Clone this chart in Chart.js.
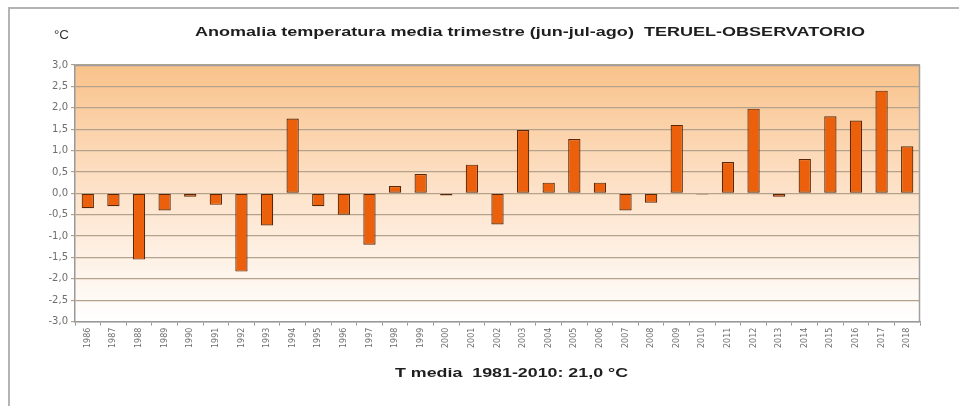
<!DOCTYPE html>
<html>
<head>
<meta charset="utf-8">
<script src="https://cdn.jsdelivr.net/npm/chart.js"></script>
<style>
    body { margin: 0; background: #fff; }
    #wrap { position: relative; width: 959px; height: 406px; }
    #frame { position: absolute; left: 8px; top: 7px; width: 1000px; height: 500px;
             border-left: 2px solid #b4b4b4; border-top: 2px solid #b4b4b4; }
    canvas { position: absolute; left: 0; top: 0; }
</style>
</head>
<body>
<div id="wrap">
    <div id="frame"></div>
    <canvas id="anomChart" width="959" height="406"></canvas>
</div>
<script>
    const years = ['1986', '1987', '1988', '1989', '1990', '1991', '1992', '1993', '1994', '1995',
        '1996', '1997', '1998', '1999', '2000', '2001', '2002', '2003', '2004', '2005',
        '2006', '2007', '2008', '2009', '2010', '2011', '2012', '2013', '2014', '2015',
        '2016', '2017', '2018'];
    const anomalies = [-0.35, -0.3, -1.55, -0.4, -0.08, -0.27, -1.83, -0.75, 1.75, -0.3,
        -0.5, -1.2, 0.17, 0.45, -0.05, 0.67, -0.73, 1.48, 0.25, 1.27,
        0.25, -0.4, -0.22, 1.6, -0.03, 0.73, 1.98, -0.08, 0.8, 1.8,
        1.7, 2.4, 1.1];
    const yMin = -3, yMax = 3, yStep = 0.5;

    const chartTitle = 'Anomalia temperatura media trimestre (jun-jul-ago)  TERUEL-OBSERVATORIO';
    const unitLabel = '°C';
    const footer = 'T media  1981-2010: 21,0 °C';

    // the source picture is stretched sideways, so text is widened to fit a span
    function wideText(ctx, text, left, width, y) {
        const w = ctx.measureText(text).width;
        ctx.save();
        ctx.translate(left, y);
        ctx.scale(width / w, 1);
        ctx.fillText(text, 0, 0);
        ctx.restore();
    }

    const backdrop = {
        id: 'backdrop',
        beforeDraw(chart) {
            const { ctx, chartArea: a } = chart;
            const g = ctx.createLinearGradient(0, a.top, 0, a.bottom);
            g.addColorStop(0, '#f9c28a');
            g.addColorStop(0.5, '#fde3cb');
            g.addColorStop(1, '#ffffff');
            ctx.save();
            ctx.fillStyle = g;
            ctx.fillRect(a.left, a.top, a.right - a.left, a.bottom - a.top);
            ctx.restore();
        },
        afterDraw(chart) {
            const { ctx, chartArea: a } = chart;
            ctx.save();
            ctx.strokeStyle = '#a0a0a0';
            ctx.lineWidth = 1.5;
            ctx.beginPath();
            ctx.moveTo(a.left, a.top + 0.5);
            ctx.lineTo(a.right - 0.5, a.top + 0.5);
            ctx.lineTo(a.right - 0.5, a.bottom);
            ctx.stroke();
            ctx.textAlign = 'left';
            ctx.textBaseline = 'middle';
            ctx.fillStyle = '#1e1e1e';
            ctx.font = 'bold 12px Arial, "Liberation Sans"';
            wideText(ctx, chartTitle, 195, 670, 33);
            ctx.font = 'bold 13px Arial, "Liberation Sans"';
            wideText(ctx, footer, 395, 233, 373);
            ctx.font = '12px Arial, "Liberation Sans"';
            ctx.fillStyle = '#333';
            wideText(ctx, unitLabel, 54, 15, 36);
            ctx.restore();
        }
    };

    new Chart(document.getElementById('anomChart'), {
        type: 'bar',
        data: {
            labels: years,
            datasets: [{
                data: anomalies,
                backgroundColor: '#ec600b',
                borderColor: '#5a2808',
                borderWidth: 1.2,
                borderSkipped: false,
                barPercentage: 0.48,
                categoryPercentage: 1
            }]
        },
        options: {
            responsive: false,
            animation: false,
            layout: {
                padding: { left: 0, right: 39, top: 65, bottom: 56 }
            },
            plugins: {
                legend: { display: false },
                tooltip: { enabled: false }
            },
            scales: {
                x: {
                    grid: { drawOnChartArea: false, color: '#999', tickLength: 4, offset: true },
                    border: { color: '#999', width: 1.5 },
                    ticks: {
                        minRotation: 90,
                        maxRotation: 90,
                        autoSkip: false,
                        color: '#6e6e6e',
                        padding: 2,
                        font: { size: 8, family: '"DejaVu Sans"' }
                    }
                },
                y: {
                    min: yMin,
                    max: yMax,
                    afterFit(scale) { scale.width = 75; },
                    grid: { color: '#b4a28c', lineWidth: 1.2, tickLength: 4 },
                    border: { color: '#999', width: 1.5 },
                    ticks: {
                        stepSize: yStep,
                        color: '#6e6e6e',
                        padding: 3,
                        font: { size: 10, family: '"DejaVu Sans"' },
                        callback: v => v.toFixed(1).replace('.', ',')
                    }
                }
            }
        },
        plugins: [backdrop]
    });
</script>
</body>
</html>
